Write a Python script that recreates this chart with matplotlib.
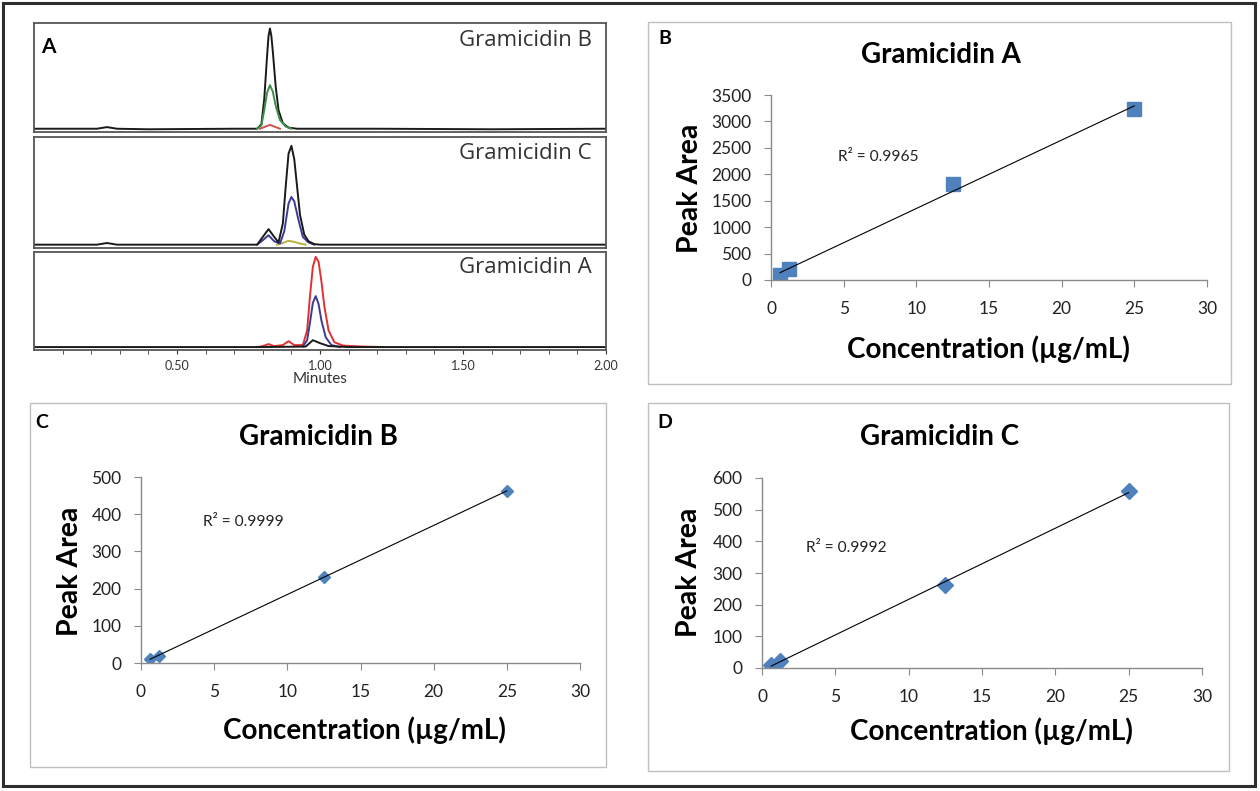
import numpy as np
import matplotlib.pyplot as plt
import matplotlib.patches as mpatches

plt.rcParams['font.family'] = ['Lato', 'DejaVu Sans']

W, H = 1260, 791

# ---- chromatogram traces (minutes, relative height) ----
# Gramicidin B window
gB_t = [0.0, 0.22, 0.255, 0.29, 0.40, 0.70, 0.78, 0.795, 0.805, 0.815, 0.82, 0.825, 0.83, 0.835, 0.845, 0.855, 0.87, 0.89, 0.92, 1.2, 1.6, 2.0]
gB_black = [0.03, 0.03, 0.045, 0.03, 0.025, 0.03, 0.03, 0.07, 0.30, 0.70, 0.88, 0.95, 0.88, 0.74, 0.42, 0.20, 0.08, 0.04, 0.03, 0.03, 0.025, 0.03]
gB_green_t = [0.78, 0.795, 0.805, 0.815, 0.825, 0.835, 0.845, 0.86, 0.88, 0.90]
gB_green = [0.03, 0.06, 0.20, 0.36, 0.43, 0.37, 0.24, 0.11, 0.05, 0.03]
gB_red_t = [0.79, 0.81, 0.825, 0.84, 0.86]
gB_red = [0.03, 0.05, 0.065, 0.05, 0.03]

# Gramicidin C window
gC_t = [0.0, 0.22, 0.255, 0.29, 0.50, 0.78, 0.80, 0.82, 0.84, 0.855, 0.87, 0.88, 0.89, 0.90, 0.91, 0.92, 0.93, 0.945, 0.96, 0.98, 1.0, 1.4, 2.0]
gC_black = [0.03, 0.03, 0.045, 0.03, 0.03, 0.03, 0.10, 0.17, 0.10, 0.05, 0.22, 0.55, 0.85, 0.92, 0.80, 0.55, 0.30, 0.12, 0.06, 0.035, 0.03, 0.03, 0.03]
gC_blue_t = [0.78, 0.80, 0.82, 0.84, 0.86, 0.875, 0.89, 0.90, 0.91, 0.925, 0.94, 0.96, 0.98]
gC_blue = [0.03, 0.07, 0.115, 0.06, 0.04, 0.15, 0.40, 0.46, 0.42, 0.25, 0.10, 0.05, 0.03]
gC_yellow_t = [0.85, 0.87, 0.89, 0.91, 0.93, 0.95]
gC_yellow = [0.03, 0.045, 0.065, 0.055, 0.04, 0.03]

# Gramicidin A window
gA_t = [0.0, 0.40, 0.80, 0.95, 0.975, 1.0, 1.03, 1.1, 1.5, 2.0]
gA_black = [0.03, 0.03, 0.03, 0.035, 0.10, 0.07, 0.04, 0.03, 0.03, 0.03]
gA_red_t = [0.78, 0.80, 0.82, 0.84, 0.87, 0.89, 0.91, 0.94, 0.955, 0.965, 0.975, 0.985, 0.995, 1.005, 1.015, 1.03, 1.05, 1.08, 1.15, 1.22]
gA_red = [0.03, 0.04, 0.06, 0.04, 0.05, 0.09, 0.05, 0.05, 0.20, 0.55, 0.85, 0.95, 0.90, 0.70, 0.45, 0.20, 0.08, 0.045, 0.035, 0.03]
gA_blue_t = [0.94, 0.955, 0.965, 0.975, 0.985, 0.995, 1.005, 1.02, 1.04, 1.07]
gA_blue = [0.035, 0.10, 0.28, 0.48, 0.55, 0.47, 0.30, 0.13, 0.05, 0.03]

# ---- calibration data ----
conc = [0.625, 1.25, 12.5, 25]
area_A = [88, 200, 1815, 3228]
area_B = [11, 20, 232, 462]
area_C = [10, 22, 262, 559]

fig = plt.figure(figsize=(W / 100, H / 100), dpi=100)


def px_axes(l, t, r, b):
    return fig.add_axes([l / W, 1 - b / H, (r - l) / W, (b - t) / H])


def px_box(l, t, r, b, color, lw):
    fig.add_artist(mpatches.Rectangle((l / W, 1 - b / H), (r - l) / W, (b - t) / H,
                                      transform=fig.transFigure, fill=False,
                                      edgecolor=color, linewidth=lw))


def px_text(x, y, s, **kw):
    fig.text(x / W, 1 - y / H, s, **kw)


# outer border and panel frames
px_box(3, 3, 1255, 786, '#2e2e2e', 2.2)
px_box(648, 22, 1231, 384, '#c0c0c0', 1)
px_box(30, 403, 606, 767, '#c0c0c0', 1)
px_box(648, 403, 1229, 771, '#c0c0c0', 1)

# ---- panel A: chromatograms ----
chroma = [
    ((34, 23, 606, 132), 'Gramicidin B', 0.844,
     [(gB_t, gB_black, '#1a1a1a'), (gB_green_t, gB_green, '#3c8c4a'), (gB_red_t, gB_red, '#d05050')]),
    ((34, 137, 606, 248), 'Gramicidin C', 0.853,
     [(gC_yellow_t, gC_yellow, '#b8b040'), (gC_blue_t, gC_blue, '#3c3c96'), (gC_t, gC_black, '#1a1a1a')]),
    ((34, 252, 606, 350), 'Gramicidin A', 0.837,
     [(gA_red_t, gA_red, '#e03030'), (gA_blue_t, gA_blue, '#3c3c96'), (gA_t, gA_black, '#1a1a1a')]),
]
for i, (box, name, ty, traces) in enumerate(chroma):
    ax = px_axes(*box)
    for t, y, c in traces:
        ax.plot(t, y, color=c, lw=1.4)
    ax.set_xlim(0, 2.0)
    ax.set_ylim(0, 1.0)
    ax.set_yticks([])
    for s in ax.spines.values():
        s.set_color('#555555')
        s.set_linewidth(1.3)
    ax.text(0.9755, ty, name, transform=ax.transAxes, ha='right', va='center',
            fontsize=16, color='#333333', family=['Open Sans', 'DejaVu Sans'])
    if i < 2:
        ax.set_xticks([])
    else:
        ax.set_xticks([0.5, 1.0, 1.5, 2.0])
        ax.set_xticklabels(['0.50', '1.00', '1.50', '2.00'])
        ax.set_xticks(np.arange(0.1, 2.0, 0.1), minor=True)
        ax.tick_params(axis='x', which='both', direction='out', length=3, labelsize=9,
                       colors='#333333', pad=4)
        ax.set_xlabel('Minutes', fontsize=11, color='#333333', labelpad=0)

px_text(48, 47, 'A', fontsize=15, fontweight='bold', ha='center', va='center')

# ---- calibration panels ----
cal = [
    ('B', 'Gramicidin A', area_A, (771, 95, 1207, 280), 3500, 500, 's', 9.5,
     (665, 39), (941, 55), (838, 157, 'R² = 0.9965'), (690, 188), (988, 349)),
    ('C', 'Gramicidin B', area_B, (141, 477, 580, 663), 500, 100, 'D', 6,
     (42, 423), (318, 437), (203, 522, 'R² = 0.9999'), (70, 571), (364, 730)),
    ('D', 'Gramicidin C', area_C, (762, 478, 1202, 668), 600, 100, 'D', 8.5,
     (665, 423), (940, 437), (806, 548, 'R² = 0.9992'), (689, 572), (991, 731)),
]
for lab, title, area, box, ymax, ystep, mk, ms, lpos, tpos, rpos, ypos, xpos in cal:
    ax = px_axes(*box)
    slope, icept = np.polyfit(conc, area, 1)
    xs = np.array([conc[0], conc[-1]])
    ax.plot(xs, slope * xs + icept, color='black', lw=0.8, zorder=3)
    ax.plot(conc, area, linestyle='none', marker=mk, markersize=ms,
            color='#4f81bd', markeredgecolor='#4f81bd', zorder=2)
    ax.set_xlim(0, 30)
    ax.set_ylim(0, ymax)
    ax.set_xticks(range(0, 31, 5))
    ax.set_yticks(range(0, ymax + 1, ystep))
    ax.spines['top'].set_visible(False)
    ax.spines['right'].set_visible(False)
    for s in ('left', 'bottom'):
        ax.spines[s].set_color('#8a8a8a')
        ax.spines[s].set_linewidth(1)
    ax.tick_params(direction='out', length=5, color='#8a8a8a', labelsize=12.5,
                   labelcolor='#222222', pad=9)
    ax.tick_params(axis='x', pad=10)
    px_text(*lpos, lab, fontsize=14, fontweight='bold', ha='center', va='center')
    px_text(*tpos, title, fontsize=20, fontweight='bold', ha='center', va='center')
    px_text(rpos[0], rpos[1], rpos[2], fontsize=11.2, ha='left', va='center', color='#222222')
    px_text(*ypos, 'Peak Area', fontsize=20.5, fontweight='bold', ha='center', va='center',
            rotation=90)
    px_text(*xpos, 'Concentration (µg/mL)', fontsize=20, fontweight='bold', ha='center',
            va='center')

fig.savefig('out.png', dpi=100)
